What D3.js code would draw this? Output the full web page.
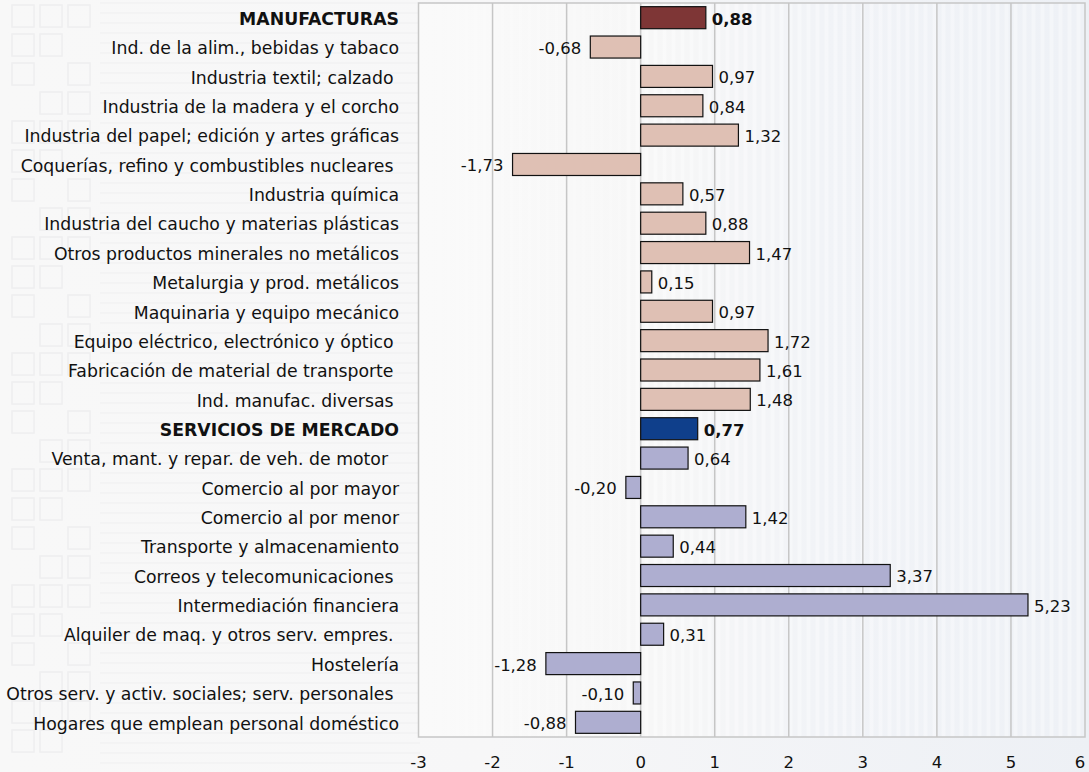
<!DOCTYPE html>
<html>
<head>
<meta charset="utf-8">
<script src="https://cdn.jsdelivr.net/npm/d3@7"></script>
<style>
  body { margin: 0; background: #f7f8fa; }
  svg { display: block; font-family: "DejaVu Sans", Verdana, sans-serif; }
  text { white-space: pre; }
</style>
</head>
<body>
<script>
// categories, top to bottom (trailing blanks as in the source labels)
var categories = [
  "MANUFACTURAS",
  "Ind. de la alim., bebidas y tabaco",
  "Industria textil; calzado ",
  "Industria de la madera y el corcho",
  "Industria del papel; edición y artes gráficas",
  "Coquerías, refino y combustibles nucleares ",
  "Industria química",
  "Industria del caucho y materias plásticas",
  "Otros productos minerales no metálicos",
  "Metalurgia y prod. metálicos",
  "Maquinaria y equipo mecánico",
  "Equipo eléctrico, electrónico y óptico ",
  "Fabricación de material de transporte ",
  "Ind. manufac. diversas ",
  "SERVICIOS DE MERCADO",
  "Venta, mant. y repar. de veh. de motor  ",
  "Comercio al por mayor",
  "Comercio al por menor",
  "Transporte y almacenamiento",
  "Correos y telecomunicaciones ",
  "Intermediación financiera",
  "Alquiler de maq. y otros serv. empres. ",
  "Hostelería",
  "Otros serv. y activ. sociales; serv. personales ",
  "Hogares que emplean personal doméstico"
];
var values = [0.88, -0.68, 0.97, 0.84, 1.32, -1.73, 0.57, 0.88, 1.47, 0.15, 0.97, 1.72, 1.61, 1.48,
              0.77, 0.64, -0.20, 1.42, 0.44, 3.37, 5.23, 0.31, -1.28, -0.10, -0.88];
// sector of each row: "man" / "serv"
var sectors = ["man","man","man","man","man","man","man","man","man","man","man","man","man","man",
               "serv","serv","serv","serv","serv","serv","serv","serv","serv","serv","serv"];
var headers = ["MANUFACTURAS", "SERVICIOS DE MERCADO"];
var xTicks = [-3, -2, -1, 0, 1, 2, 3, 4, 5, 6];

var W = 1089, H = 772;
var pLeft = 418.5, pRight = 1085, pTop = 3, pBottom = 737;

var data = categories.map(function(c, i) {
  return {name: c, value: values[i], sector: sectors[i], header: headers.indexOf(c) >= 0};
});

var fills = {
  man:  {head: "#7e3636", sub: "#dfc0b4"},
  serv: {head: "#0f3f8b", sub: "#aeaed0"}
};

var svg = d3.select("body").append("svg")
  .attr("width", W)
  .attr("height", H);

var defs = svg.append("defs");
var bg = defs.append("linearGradient").attr("id", "bgGrad");
bg.append("stop").attr("offset", "0%").attr("stop-color", "#f8f8f8");
bg.append("stop").attr("offset", "45%").attr("stop-color", "#f7f7f8");
bg.append("stop").attr("offset", "100%").attr("stop-color", "#edf0f5");

var pg = defs.append("linearGradient").attr("id", "plotGrad");
pg.append("stop").attr("offset", "0%").attr("stop-color", "#fafafa");
pg.append("stop").attr("offset", "35%").attr("stop-color", "#f7f7f7");
pg.append("stop").attr("offset", "60%").attr("stop-color", "#f1f3f7");
pg.append("stop").attr("offset", "100%").attr("stop-color", "#eef1f6");

// page background
svg.append("rect").attr("width", W).attr("height", H).attr("fill", "url(#bgGrad)");

// faint watermark on the left
var wm = svg.append("g").attr("stroke", "#e8e8ea").attr("fill", "none").attr("stroke-width", 1.5);
d3.range(0, 26).forEach(function(r) {
  [12, 40, 68].forEach(function(cx, k) {
    if ((r + k) % 4 === 3) return;
    wm.append("rect").attr("x", cx).attr("y", r * 29 + 5).attr("width", 22).attr("height", 22).attr("opacity", 0.6);
  });
});
d3.range(0, 80).forEach(function(r) {
  svg.append("line").attr("x1", 100).attr("x2", 420).attr("y1", r * 10 + 3).attr("y2", r * 10 + 3)
    .attr("stroke", "#efeff0").attr("stroke-width", 1);
});

var x = d3.scaleLinear().domain([-3, 6]).range([pLeft, pRight]);
var y = d3.scaleBand().domain(categories).range([pTop, pBottom]).paddingInner(0.25).paddingOuter(0.125);

// plot area
svg.append("rect")
  .attr("x", pLeft).attr("y", pTop)
  .attr("width", pRight - pLeft).attr("height", pBottom - pTop)
  .attr("fill", "url(#plotGrad)");

// subtle vertical stripes
var stripes = svg.append("g");
d3.range(pLeft + 10, pRight, 9).forEach(function(sx) {
  stripes.append("rect").attr("x", sx).attr("y", pTop).attr("width", 4).attr("height", pBottom - pTop)
    .attr("fill", "#ffffff").attr("opacity", sx > 620 ? 0.35 : 0.15);
});

// grid
svg.append("g").selectAll("line")
  .data(xTicks.slice(1, -1))
  .enter().append("line")
  .attr("x1", function(d) { return x(d); })
  .attr("x2", function(d) { return x(d); })
  .attr("y1", pTop).attr("y2", pBottom)
  .attr("stroke", "#c6c6c6").attr("stroke-width", 1.5);

svg.append("rect")
  .attr("x", pLeft).attr("y", pTop)
  .attr("width", pRight - pLeft).attr("height", pBottom - pTop)
  .attr("fill", "none").attr("stroke", "#c6c6c6").attr("stroke-width", 1.5);

// bars
svg.append("g").selectAll("rect")
  .data(data)
  .enter().append("rect")
  .attr("x", function(d) { return x(Math.min(0, d.value)); })
  .attr("y", function(d) { return y(d.name); })
  .attr("width", function(d) { return Math.abs(x(d.value) - x(0)); })
  .attr("height", y.bandwidth())
  .attr("fill", function(d) { return d.header ? fills[d.sector].head : fills[d.sector].sub; })
  .attr("stroke", "#111").attr("stroke-width", 1.2);

var fmt = function(v) { return v.toFixed(2).replace(".", ","); };

// value labels
svg.append("g").selectAll("text")
  .data(data)
  .enter().append("text")
  .attr("x", function(d) { return d.value < 0 ? x(d.value) - 9 : x(d.value) + 6; })
  .attr("y", function(d) { return y(d.name) + y.bandwidth() / 2 + 1; })
  .attr("dy", "0.36em")
  .attr("text-anchor", function(d) { return d.value < 0 ? "end" : "start"; })
  .attr("font-size", 16.5)
  .attr("font-weight", function(d) { return d.header ? "bold" : "normal"; })
  .attr("fill", "#111")
  .text(function(d) { return fmt(d.value); });

// category labels
svg.append("g").selectAll("text")
  .data(data)
  .enter().append("text")
  .attr("x", 399)
  .attr("y", function(d) { return y(d.name) + y.bandwidth() / 2 + 1; })
  .attr("dy", "0.36em")
  .attr("text-anchor", "end")
  .attr("font-size", 17.3)
  .attr("font-weight", function(d) { return d.header ? "bold" : "normal"; })
  .attr("fill", "#111")
  .text(function(d) { return d.name; });

// x tick labels (last one kept inside the page)
svg.append("g").selectAll("text")
  .data(xTicks)
  .enter().append("text")
  .attr("x", function(d) { return Math.min(x(d), W - 9); })
  .attr("y", 768)
  .attr("text-anchor", "middle")
  .attr("font-size", 16.5)
  .attr("fill", "#111")
  .text(function(d) { return d; });
</script>
</body>
</html>
